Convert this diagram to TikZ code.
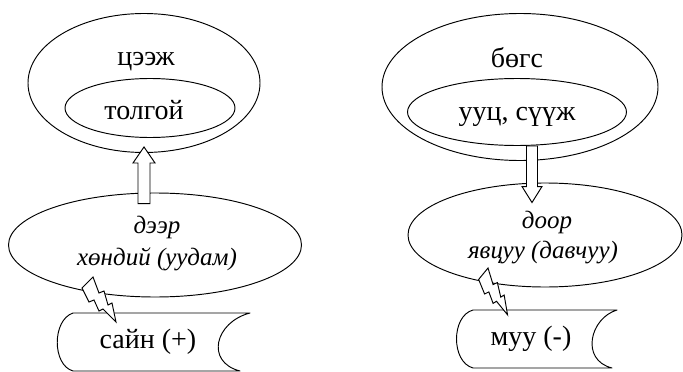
\documentclass[tikz,border=0pt]{standalone}
\usepackage{fontspec}
\setmainfont{Liberation Serif}
\usetikzlibrary{shapes.geometric,calc}

\begin{document}
\begin{tikzpicture}[x=1pt,y=-1pt,
  line width=0.95pt,
  oval/.style={draw,ellipse,inner sep=0pt},
  word/.style={anchor=base,inner sep=0pt,font=\fontsize{28}{30}\selectfont},
  slant/.style={anchor=base,inner sep=0pt,font=\fontsize{25}{28}\selectfont\itshape},
  blockarrow/.style={draw,fill=white,line join=miter},
  tape/.style={draw,line join=round},
  bolt/.pic={\path[draw,fill=white,line join=miter]
    (0,0) -- (6,16) -- (11,14) -- (15,28) -- (19,26) -- (23,45)
    -- (10,32) -- (6,34) -- (1,23) -- (-4,25) -- (-11,11) -- cycle;},
]
\useasboundingbox (0,0) rectangle (683,372);

% ---- left column: upper part ----
\node[oval,minimum width=232pt,minimum height=139pt] (outerL) at (144,83) {};
\node[oval,minimum width=170pt,minimum height=59pt] (innerL) at (150,108) {};
\node[word] (tseej) at (146,65) {цээж};
\node[word] (tolgoi) at (144,119) {толгой};

% ---- left column: middle part ----
\node[oval,minimum width=293pt,minimum height=104pt] (midL) at (155,245) {};
\node[slant] (deer) at (157,233) {дээр};
\node[slant] (khondii) at (157,265) {хөндий (уудам)};

% ---- right column: upper part ----
\node[oval,minimum width=276pt,minimum height=147pt] (outerR) at (520,87) {};
\node[oval,minimum width=219pt,minimum height=67pt] (innerR) at (517,112) {};
\node[word] (bogs) at (517,67) {бөгс};
\node[word] (uuts) at (517,120) {ууц, сүүж};

% ---- right column: middle part ----
\node[oval,minimum width=274pt,minimum height=104pt] (midR) at (545,235) {};
\node[slant] (door) at (547,228) {доор};
\node[slant] (yavtsuu) at (543,258) {явцуу (давчуу)};

% ---- block arrows ----
\coordinate (aLbase) at ($(midL.north)+(-11,11)$);
\coordinate (aLtip) at ($(outerL.south)+(0,-6)$);
\draw[blockarrow] let \p1=(aLbase), \p2=(aLtip) in
  (\x1-6pt,\y1) -- (\x1-6pt,\y2-16pt) -- (\x1-11pt,\y2-16pt) -- (\x2,\y2)
  -- (\x1+11pt,\y2-16pt) -- (\x1+6pt,\y2-16pt) -- (\x1+6pt,\y1) -- cycle;

\coordinate (aRbase) at ($(innerR.south)+(15,0)$);
\coordinate (aRtip) at ($(midR.north)+(-13,20)$);
\draw[blockarrow] let \p1=(aRbase), \p2=(aRtip) in
  (\x1-5.5pt,\y1) -- (\x1-5.5pt,\y2+16pt) -- (\x1-10pt,\y2+16pt) -- (\x2,\y2)
  -- (\x1+10pt,\y2+16pt) -- (\x1+5.5pt,\y2+16pt) -- (\x1+5.5pt,\y1) -- cycle;

% ---- tape shapes with verdicts ----
\draw[tape] (73,313) -- (250,313) .. controls (215,322) and (205,362) .. (240,371)
  -- (73,371) .. controls (52,365) and (52,320) .. (73,313);
\node[word] (sain) at (148,348) {сайн (+)};

\draw[tape] (473,310) -- (617,310) .. controls (590,318) and (580,360) .. (612,368)
  -- (473,368) .. controls (451,362) and (451,316) .. (473,310);
\node[word] (muu) at (531,345) {муу (-)};

% ---- lightning bolts ----
\coordinate (boltL) at (93,277);
\coordinate (boltR) at (488,268);
\pic at (boltL) {bolt};
\pic[xscale=0.85,yscale=1.04] at (boltR) {bolt};
\end{tikzpicture}
\end{document}
